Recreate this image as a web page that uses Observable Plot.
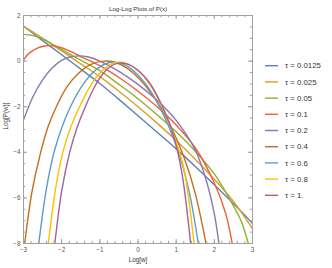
<!DOCTYPE html>
<html><head><meta charset="utf-8">
<script src="https://cdn.jsdelivr.net/npm/d3@7"></script>
<script src="https://cdn.jsdelivr.net/npm/@observablehq/plot@0.6"></script>
<style>
body{margin:0;background:#fff;font-family:"Liberation Sans",Arial,sans-serif;}
#chart{position:relative;width:332px;height:268px;}
</style>
</head><body><div id="chart"></div>
<script>
const taus = ["0.0125","0.025","0.05","0.1","0.2","0.4","0.6","0.8","1."];
const colors = ["#5E81B5","#E19C24","#8FB032","#EB6235","#8778B3","#C56E1A","#5D9EC7","#FFBF00","#A5609D"];

const tau0_0125 = [[-3,1.53],[-2.5,0.9],[-2,0.28],[-1.5,-0.35],[-1,-0.98],[-0.5,-1.68],[0,-2.4],[0.5,-3.12],[1,-3.85],[1.5,-4.62],[2,-5.42],[2.5,-6.25],[3,-7.12]];
const tau0_025 = [[-3,1.53],[-2.5,1.0],[-2,0.45],[-1.5,-0.12],[-1,-0.68],[-0.5,-1.32],[0,-2.0],[0.5,-2.72],[1,-3.48],[1.5,-4.3],[2,-5.18],[2.5,-6.15],[3,-7.35]];
const tau0_05 = [[-3,1.17],[-2.75,1.12],[-2.5,0.98],[-2.25,0.75],[-2,0.5],[-1.5,0.04],[-1,-0.42],[-0.5,-1.02],[0,-1.65],[0.5,-2.35],[1,-3.1],[1.5,-3.95],[2,-4.95],[2.4,-6.05],[2.7,-7.0],[2.89,-8],[3,-8.6]];
const tau0_1 = [[-3,0.06],[-2.85,0.35],[-2.65,0.56],[-2.45,0.66],[-2.3,0.68],[-2.1,0.63],[-1.8,0.45],[-1.5,0.2],[-1,-0.2],[-0.5,-0.72],[0,-1.32],[0.5,-2.0],[1,-2.8],[1.5,-3.8],[2,-5.35],[2.3,-6.7],[2.47,-8],[2.55,-8.7]];
const tau0_2 = [[-3,-2.58],[-2.75,-1.55],[-2.5,-0.82],[-2.25,-0.3],[-2,0.03],[-1.8,0.17],[-1.55,0.23],[-1.3,0.18],[-1,0.0],[-0.5,-0.45],[0,-1.02],[0.5,-1.72],[1,-2.6],[1.5,-3.9],[1.8,-5.3],[2.0,-6.7],[2.12,-8],[2.18,-8.8]];
const tau0_4 = [[-3.02,-8.6],[-2.97,-8],[-2.78,-5.75],[-2.55,-4.0],[-2.35,-2.85],[-2.14,-2.0],[-1.85,-1.1],[-1.55,-0.52],[-1.25,-0.15],[-0.9,0.0],[-0.6,-0.05],[-0.3,-0.3],[0,-0.72],[0.3,-1.3],[0.6,-2.05],[0.9,-3.0],[1.2,-4.2],[1.5,-5.8],[1.78,-8],[1.85,-8.7]];
const tau0_6 = [[-2.65,-8.7],[-2.6,-8],[-2.41,-5.7],[-2.2,-4.0],[-2.0,-2.93],[-1.77,-2.0],[-1.5,-1.17],[-1.25,-0.62],[-1.0,-0.25],[-0.7,-0.05],[-0.4,-0.12],[-0.1,-0.45],[0.2,-1.0],[0.5,-1.8],[0.8,-2.85],[1.1,-4.2],[1.35,-5.8],[1.58,-8],[1.63,-8.6]];
const tau0_8 = [[-2.4,-8.7],[-2.35,-8],[-2.17,-5.7],[-1.97,-4.0],[-1.77,-2.93],[-1.53,-2.0],[-1.28,-1.17],[-1.05,-0.62],[-0.83,-0.27],[-0.6,-0.07],[-0.3,-0.1],[0,-0.42],[0.3,-1.0],[0.6,-1.9],[0.9,-3.05],[1.2,-4.7],[1.47,-8],[1.51,-8.6]];
const tau1 = [[-2.23,-8.7],[-2.18,-8],[-2.0,-5.7],[-1.79,-4.0],[-1.6,-2.93],[-1.38,-2.0],[-1.15,-1.17],[-0.95,-0.62],[-0.75,-0.27],[-0.55,-0.1],[-0.3,-0.12],[0,-0.4],[0.3,-0.95],[0.6,-1.85],[0.9,-3.1],[1.15,-4.9],[1.38,-8],[1.42,-8.6]];

const series = [tau0_0125,tau0_025,tau0_05,tau0_1,tau0_2,tau0_4,tau0_6,tau0_8,tau1];
const xTicks = [-3,-2,-1,0,1,2,3];
const yTicks = [-8,-6,-4,-2,0,2];
const xMinor = d3.range(-30,31,2).map(d=>d/10);
const yMinor = d3.range(-16,5).map(d=>d/2);
const title = "Log-Log Plots of P(x)";
const xLabel = "Log[w]";
const yLabel = "Log[P(w)]";

const rows = series.flatMap((pts,i)=>pts.map(([x,y])=>({x,y,tau:taus[i]})));

const W=332,H=268,mL=23,mR=80,mT=15,mB=25;
const pH=H-mT-mB, pW=W-mL-mR;
const tickC="#a0a0a0", labC="#555";

const plot = Plot.plot({
  width:W,height:H,marginLeft:mL,marginRight:mR,marginTop:mT,marginBottom:mB,
  style:{fontFamily:"'Liberation Sans',Arial,sans-serif",background:"#fff"},
  x:{domain:[-3,3]},
  y:{domain:[-8,2]},
  color:{domain:taus,range:colors},
  marks:[
    Plot.line(rows,{x:"x",y:"y",z:"tau",stroke:"tau",strokeWidth:1.4,curve:"catmull-rom",clip:true}),
    Plot.frame({stroke:tickC,strokeWidth:1}),
    Plot.tickX(xTicks,{x:d=>d,insetTop:pH-4,stroke:tickC}),
    Plot.tickX(xTicks,{x:d=>d,insetBottom:pH-4,stroke:tickC}),
    Plot.tickX(xMinor,{x:d=>d,insetTop:pH-2.2,stroke:tickC}),
    Plot.tickX(xMinor,{x:d=>d,insetBottom:pH-2.2,stroke:tickC}),
    Plot.tickY(yTicks,{y:d=>d,insetRight:pW-4,stroke:tickC}),
    Plot.tickY(yTicks,{y:d=>d,insetLeft:pW-4,stroke:tickC}),
    Plot.tickY(yMinor,{y:d=>d,insetRight:pW-2.2,stroke:tickC}),
    Plot.tickY(yMinor,{y:d=>d,insetLeft:pW-2.2,stroke:tickC}),
    Plot.axisX(xTicks,{tickSize:0,tickPadding:4,fontSize:6.3,fill:labC,label:null}),
    Plot.axisY(yTicks,{tickSize:0,tickPadding:3,fontSize:6.3,fill:labC,label:null}),
    Plot.text([title],{frameAnchor:"top",dy:-9,fontSize:6.2,fill:"#333"}),
    Plot.text([xLabel],{frameAnchor:"bottom",dy:18,fontSize:6.3,fill:"#333"}),
    Plot.text([yLabel],{frameAnchor:"left",dx:-18,rotate:-90,fontSize:6.3,fill:"#333"})
  ]
});
document.getElementById("chart").appendChild(plot);

// legend
const svg = d3.select(plot);
const lg = svg.append("g").attr("font-size",7.8).attr("fill","#333").attr("text-anchor","start");
taus.forEach((t,i)=>{
  const yy = 65.7 + i*16.2;
  lg.append("line").attr("x1",265).attr("x2",278).attr("y1",yy).attr("y2",yy)
    .attr("stroke",colors[i]).attr("stroke-width",1.4);
  lg.append("text").attr("x",285).attr("y",yy).attr("dy","0.35em").attr("text-anchor","start").text("τ = "+t);
});
</script>
</body></html>
